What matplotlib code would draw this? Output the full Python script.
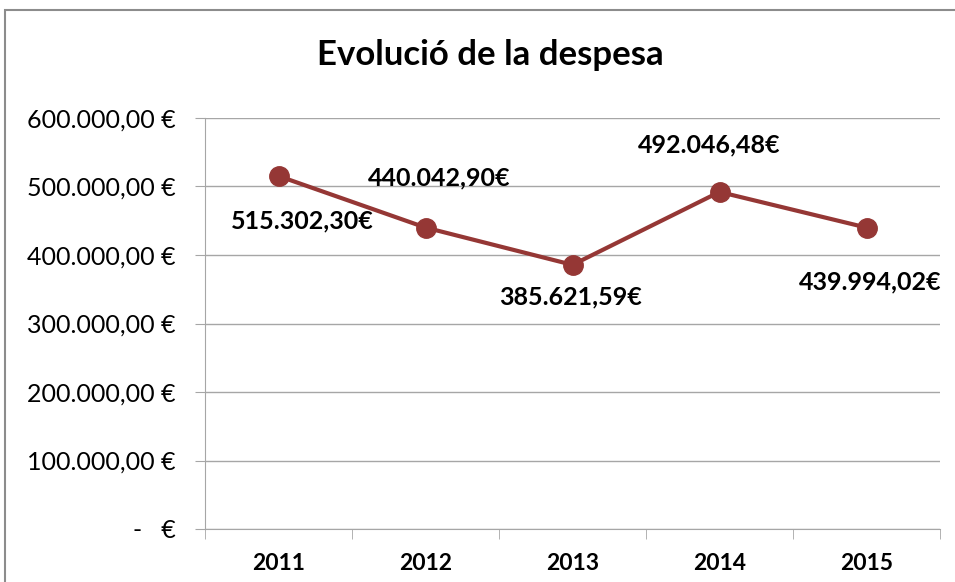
import numpy as np
import matplotlib
matplotlib.use("Agg")
import matplotlib.pyplot as plt
from matplotlib.patches import Rectangle
from matplotlib.ticker import FuncFormatter, FixedLocator

plt.rcParams['font.family'] = ['Lato', 'DejaVu Sans']

years  = ["2011", "2012", "2013", "2014", "2015"]
spend  = [515302.30, 440042.90, 385621.59, 492046.48, 439994.02]
labels = ["515.302,30€", "440.042,90€", "385.621,59€", "492.046,48€", "439.994,02€"]
# label offsets from point, in pixels
offsets = [(24, -45), (14, 50), (-2, -32), (-10, 47), (4, -54)]

LINE_C = "#953735"
GRID_C = "#a6a6a6"

def euro(v, pos):
    if v == 0:
        return "-   €"
    s = f"{v:,.2f}"
    s = s.replace(",", "X").replace(".", ",").replace("X", ".")
    return s + " €"

fig = plt.figure(figsize=(9.55, 5.82), dpi=100)
ax = fig.add_axes([205/955, 53/582, 735/955, 411/582])

x = np.arange(len(years))
ax.plot(x, spend, color=LINE_C, lw=3, marker="o", ms=14, zorder=3)

for xi, yi, lab, (dx, dy) in zip(x, spend, labels, offsets):
    ax.annotate(lab, (xi, yi), xytext=(dx, dy), textcoords="offset pixels",
                ha="center", va="center", fontsize=18, fontweight="bold")

ax.set_xlim(-0.5, len(years) - 0.5)
ax.set_ylim(0, 600000)
ax.set_yticks(np.arange(0, 600001, 100000))
ax.yaxis.set_major_formatter(FuncFormatter(euro))
ax.yaxis.grid(True, color=GRID_C, lw=1)
ax.set_axisbelow(True)

ax.set_xticks(x)
ax.set_xticklabels(years, fontsize=16.5, fontweight="bold")
ax.xaxis.set_minor_locator(FixedLocator(np.arange(-0.5, len(years), 1.0)))
ax.tick_params(axis="x", which="major", length=0, pad=17)
ax.tick_params(axis="x", which="minor", length=7, color=GRID_C)
ax.tick_params(axis="y", length=7, color=GRID_C, labelsize=18, pad=14)

for side in ["top", "right"]:
    ax.spines[side].set_visible(False)
for side in ["left", "bottom"]:
    ax.spines[side].set_color(GRID_C)

fig.text(490/955, 1 - 55/582, "Evolució de la despesa", ha="center", va="center",
         fontsize=25, fontweight="bold")

fig.patches.append(Rectangle((5/955, -0.1), 1.2, 1 - 10/582 + 0.1,
                             transform=fig.transFigure, fill=False,
                             edgecolor="#8c8c8c", lw=1.5))

fig.savefig("out.png", dpi=100)
